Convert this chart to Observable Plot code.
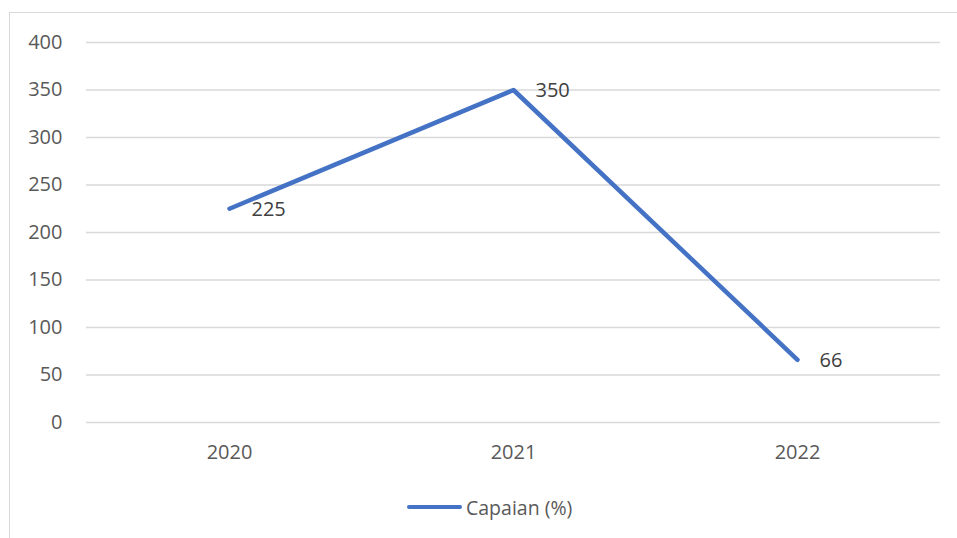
<!DOCTYPE html>
<html>
<head>
<meta charset="utf-8">
<script src="https://cdn.jsdelivr.net/npm/d3@7"></script>
<script src="https://cdn.jsdelivr.net/npm/@observablehq/plot@0.6"></script>
<style>
  html, body { margin: 0; padding: 0; background: #fff; overflow: hidden; }
  #wrap { position: relative; width: 957px; height: 538px; font-family: "Open Sans", sans-serif; }
  #frame { position: absolute; left: 9px; top: 12px; width: 1000px; height: 600px;
           border-left: 1.5px solid #d9d9d9; border-top: 1.5px solid #d9d9d9; box-sizing: border-box; }
  #chart { position: absolute; left: 0; top: 0; }
  #legend { position: absolute; left: 407px; top: 493px; height: 28px;
            display: flex; align-items: center; }
  #legend .swatch { width: 55px; height: 4.5px; background: #4472C4; border-radius: 3px; }
  #legend .lab { font-size: 19.5px; color: #595959; margin-left: 4px; }
</style>
</head>
<body>
<div id="wrap">
  <div id="frame"></div>
  <div id="chart"></div>
  <div id="legend"><span class="swatch"></span><span class="lab">Capaian (%)</span></div>
</div>
<script>
const years = ["2020", "2021", "2022"];
const values = [225, 350, 66];
const yTicks = [0, 50, 100, 150, 200, 250, 300, 350, 400];
const seriesName = "Capaian (%)";

const data = years.map((y, i) => ({year: y, value: values[i]}));

const chart = Plot.plot({
  width: 957,
  height: 480,
  marginTop: 42,
  marginBottom: 58,
  marginLeft: 86,
  marginRight: 17,
  style: {fontFamily: "Open Sans, sans-serif", fontSize: "20px", background: "transparent", overflow: "visible"},
  x: {type: "point", domain: years, padding: 0.5, label: null},
  y: {domain: [0, 400], ticks: yTicks, label: null},
  marks: [
    Plot.gridY(yTicks, {stroke: "#d9d9d9", strokeOpacity: 1, strokeWidth: 1.4}),
    Plot.axisY(yTicks, {tickSize: 0, tickPadding: 24, fill: "#595959", fontSize: 20, label: null}),
    Plot.axisX({tickSize: 0, tickPadding: 22, fill: "#595959", fontSize: 20, label: null}),
    Plot.line(data, {x: "year", y: "value", stroke: "#4472C4", strokeWidth: 4.5, strokeLinecap: "round", strokeLinejoin: "round"}),
    Plot.text(data, {x: "year", y: "value", text: d => String(d.value), dx: 22, dy: 1, textAnchor: "start", fill: "#404040", fontSize: 20})
  ]
});
document.getElementById("chart").appendChild(chart);
</script>
</body>
</html>
